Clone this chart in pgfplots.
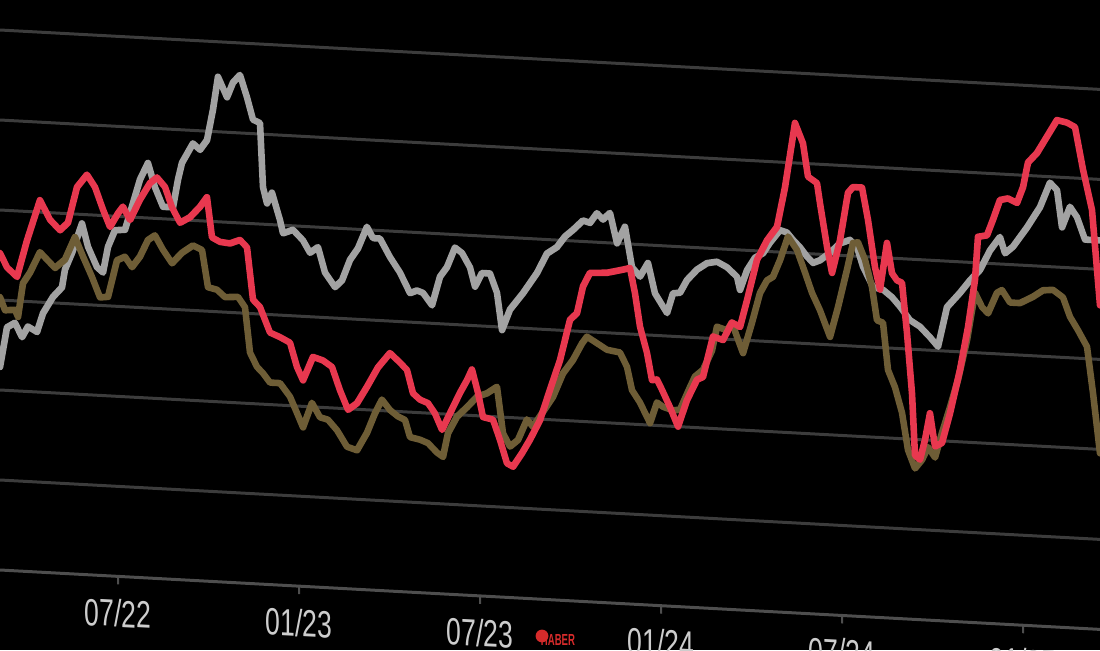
\documentclass[border=0pt]{standalone}
\usepackage{pgfplots}
\pgfplotsset{compat=1.18}
\usepackage{fontspec}
\setmainfont{Liberation Sans}
\definecolor{gridc}{HTML}{3C3C3C}
\definecolor{basec}{HTML}{4E4E4E}
\definecolor{silverc}{HTML}{A2A2A2}
\definecolor{redc}{HTML}{E8384F}
\definecolor{goldc}{HTML}{6E5D36}
\definecolor{labc}{HTML}{CDCDCD}
\definecolor{haber}{HTML}{D62B2B}
\begin{document}
\begin{tikzpicture}
\useasboundingbox (0,0) rectangle (550pt,325pt);
\fill[black] (0,0) rectangle (550pt,325pt);
\clip (0,0) rectangle (550pt,325pt);
\begin{scope}[transform canvas={yslant=-0.054}]
\begin{axis}[
  at={(0pt,40pt)}, anchor=south west,
  scale only axis, width=550pt, height=310pt,
  xmin=0, xmax=1100, ymin=0, ymax=620,
  axis x line*=bottom, axis y line*=left,
  x axis line style={-, draw=basec, line width=1.5pt},
  y axis line style={draw=none},
  ytick={90,180,270,360,450,540},
  yticklabels={},
  ytick style={draw=none},
  ymajorgrids,
  grid style={draw=gridc, line width=1.5pt},
  xtick={118,299,480,661,842,1023},
  xticklabels={\scalebox{0.7}[1]{07/22},\scalebox{0.7}[1]{01/23},\scalebox{0.7}[1]{07/23},\scalebox{0.7}[1]{01/24},\scalebox{0.7}[1]{07/24},\scalebox{0.7}[1]{01/25}},
  tick align=outside,
  major tick length=4pt,
  xtick style={draw=basec, line width=1pt},
  xticklabel style={text=labc, font=\fontsize{19}{19}\selectfont, yshift=-4pt},
  every axis plot/.append style={line width=3.3pt, line join=round, line cap=round, no markers},
]
\addplot[silverc] coordinates {
(0,203)(7,243)(15,248)(22,234)(28,245)(37,240)(43,259)(53,276)(62,286)(65,304)(72,321)(82,351)(88,328)(97,308)(103,303)(108,329)(115,346)(125,347)(133,374)(140,398)(148,415)(155,391)(163,372)(173,372)(178,400)(182,417)(193,437)(200,431)(207,441)(213,472)(218,505)(227,485)(233,500)(240,508)(247,486)(253,464)(260,461)(263,397)(267,381)(272,392)(280,365)(283,352)(293,356)(303,346)(310,334)(318,340)(325,315)(335,301)(342,308)(350,329)(358,341)(367,363)(373,352)(380,352)(390,334)(400,319)(410,299)(417,302)(423,300)(432,288)(440,317)(447,327)(455,347)(462,342)(470,328)(475,309)(482,323)(490,323)(497,304)(502,267)(510,288)(523,305)(537,326)(547,346)(557,353)(565,364)(573,371)(583,381)(590,379)(597,389)(603,383)(610,390)(617,360)(625,377)(632,337)(640,328)(648,342)(655,312)(667,293)(673,313)(680,314)(687,327)(697,338)(707,345)(717,347)(727,342)(737,333)(740,320)(747,340)(755,353)(763,358)(770,369)(780,382)(787,380)(793,373)(800,366)(807,357)(813,351)(820,354)(830,362)(840,372)(850,376)(857,369)(863,350)(873,330)(883,328)(892,321)(900,312)(910,299)(920,293)(930,283)(938,274)(947,314)(960,329)(970,342)(980,353)(990,373)(1000,387)(1005,371)(1013,378)(1027,398)(1040,419)(1050,444)(1057,437)(1062,400)(1070,421)(1077,411)(1085,389)(1100,389)
};
\addplot[goldc] coordinates {
(0,273)(5,260)(15,261)(18,254)(23,288)(30,299)(40,320)(50,310)(55,305)(65,314)(75,337)(83,318)(92,298)(100,278)(108,279)(117,316)(125,320)(132,310)(140,321)(148,338)(155,343)(163,329)(172,316)(182,327)(193,335)(202,331)(208,294)(217,292)(225,285)(238,286)(245,276)(250,231)(257,217)(263,211)(270,202)(280,202)(290,189)(297,173)(303,159)(312,184)(320,170)(328,168)(337,158)(347,142)(357,139)(367,157)(375,177)(382,191)(390,181)(398,175)(405,172)(410,155)(420,153)(428,150)(437,141)(443,137)(448,161)(457,178)(467,188)(477,199)(487,203)(497,210)(503,164)(510,151)(518,158)(527,179)(533,172)(542,186)(553,203)(563,227)(573,241)(582,258)(587,265)(597,259)(607,253)(620,251)(627,237)(632,214)(640,202)(650,182)(657,203)(663,199)(673,196)(680,197)(690,220)(695,231)(703,238)(712,258)(717,282)(727,279)(732,287)(737,273)(743,257)(752,288)(760,318)(767,331)(773,335)(780,352)(788,376)(797,363)(805,341)(812,321)(820,304)(830,278)(838,308)(847,346)(853,373)(858,374)(865,357)(872,330)(877,297)(883,295)(888,248)(895,231)(902,206)(908,169)(915,151)(922,160)(928,173)(935,163)(942,188)(950,214)(958,242)(967,282)(975,330)(982,316)(988,310)(997,331)(1002,334)(1010,322)(1020,322)(1033,329)(1043,336)(1053,337)(1063,330)(1070,311)(1078,298)(1087,282)(1093,236)(1100,176)
};
\addplot[redc] coordinates {
(0,317)(7,303)(17,294)(27,331)(40,372)(50,353)(60,343)(68,351)(77,387)(87,400)(95,388)(103,366)(110,349)(118,363)(123,370)(130,357)(140,378)(150,395)(157,401)(165,392)(172,372)(180,357)(190,363)(200,374)(207,384)(212,344)(220,340)(230,339)(240,343)(247,336)(253,284)(260,277)(270,252)(280,248)(290,243)(297,219)(303,206)(313,230)(323,227)(332,221)(340,198)(348,179)(357,186)(367,203)(378,223)(390,238)(400,229)(407,222)(413,199)(420,193)(428,190)(435,180)(442,164)(450,181)(460,202)(467,215)(472,226)(478,203)(483,179)(493,177)(500,157)(507,134)(513,131)(522,145)(530,159)(540,179)(550,210)(560,240)(570,281)(577,288)(583,315)(590,329)(607,330)(623,334)(630,336)(635,311)(640,278)(647,252)(652,225)(657,226)(662,216)(670,199)(678,180)(687,207)(697,228)(703,231)(713,272)(723,269)(732,287)(740,283)(747,310)(757,351)(767,371)(777,385)(785,425)(795,490)(803,470)(808,437)(817,431)(820,411)(827,368)(832,342)(840,375)(848,423)(853,429)(862,429)(868,397)(875,350)(880,328)(887,375)(892,345)(897,338)(902,336)(907,286)(912,226)(915,164)(920,160)(925,180)(930,207)(935,174)(942,178)(950,208)(960,252)(968,295)(975,343)(978,386)(987,388)(993,404)(1000,424)(1008,426)(1017,422)(1023,438)(1028,463)(1037,473)(1047,490)(1057,507)(1067,505)(1075,501)(1083,459)(1092,419)(1100,324)
};
\end{axis}
\end{scope}
\fill[haber] (271pt,7pt) circle (3.2pt);
\node[text=haber, font=\bfseries\fontsize{8}{8}\selectfont, inner sep=0pt] at (279pt,5pt) {\scalebox{0.6}[1]{HABER}};
\end{tikzpicture}
\end{document}
